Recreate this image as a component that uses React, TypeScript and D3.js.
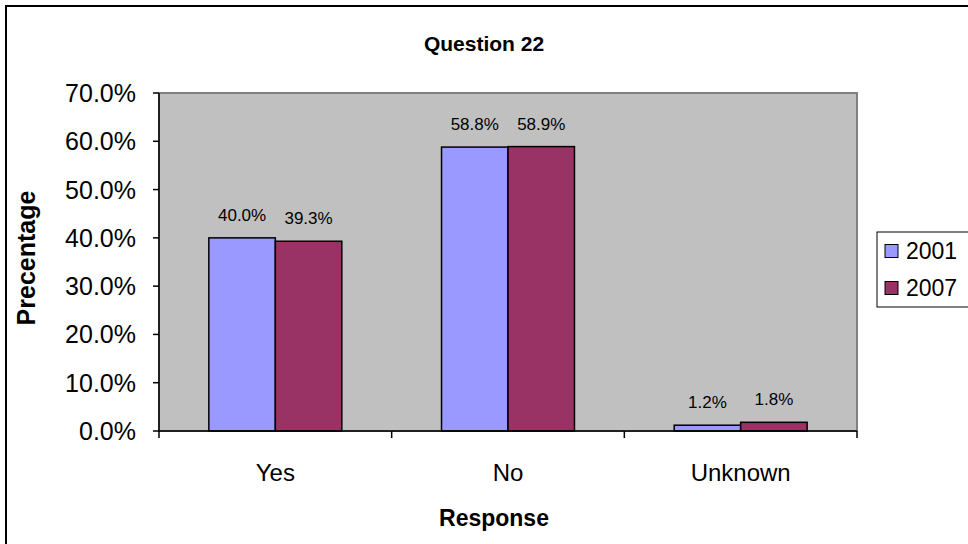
import React from 'react';
import * as d3 from 'd3';

const categories = ['Yes', 'No', 'Unknown'];
const seriesNames = ['2001', '2007'];
const values2001 = [40.0, 58.8, 1.2];
const values2007 = [39.3, 58.9, 1.8];
const yTicks = [0, 10, 20, 30, 40, 50, 60, 70];
const colors = ['#9999ff', '#993366'];

const W = 968;
const H = 544;
const plot = { left: 159, top: 93, right: 857, bottom: 431 };
const font = 'Arial, "Liberation Sans", sans-serif';

export default function App() {
  const x = d3.scaleBand<string>()
    .domain(categories)
    .range([plot.left, plot.right]);
  // Excel gap width 150% -> each bar is band / 3.5
  const barW = x.bandwidth() / 3.5;
  const y = d3.scaleLinear().domain([0, 70]).range([plot.bottom, plot.top]);
  const series = [values2001, values2007];

  return (
    <svg width={W} height={H} style={{ position: 'fixed', left: 0, top: 0, background: '#fff' }}
      fontFamily={font}>
      <rect x={6} y={6} width={W + 10} height={H + 10} fill="#fff" stroke="#000" strokeWidth={2} />

      <text x={W / 2} y={51} textAnchor="middle" fontWeight="bold" fontSize={21}>Question 22</text>

      {/* plot area */}
      <rect x={plot.left} y={plot.top} width={plot.right - plot.left} height={plot.bottom - plot.top}
        fill="#c0c0c0" stroke="#808080" strokeWidth={2} />

      {/* bars */}
      {categories.map((c, i) => {
        const x0 = (x(c) ?? 0) + x.bandwidth() / 2 - barW;
        return (
          <g key={c}>
            {series.map((vals, s) => (
              <g key={s}>
                <rect x={x0 + s * barW} y={y(vals[i])} width={barW} height={plot.bottom - y(vals[i])}
                  fill={colors[s]} stroke="#000" strokeWidth={1.5} />
                <text x={x0 + s * barW + barW / 2} y={y(vals[i]) - 17} textAnchor="middle" fontSize={17}>
                  {vals[i].toFixed(1)}%
                </text>
              </g>
            ))}
          </g>
        );
      })}

      {/* y axis */}
      <line x1={plot.left} x2={plot.left} y1={plot.top} y2={plot.bottom} stroke="#000" strokeWidth={1.5} />
      {yTicks.map(t => (
        <g key={t}>
          <line x1={plot.left - 6} x2={plot.left} y1={y(t)} y2={y(t)} stroke="#000" strokeWidth={1.5} />
          <text x={plot.left - 23} y={y(t)} dy="0.36em" textAnchor="end" fontSize={25}>{t.toFixed(1)}%</text>
        </g>
      ))}

      {/* x axis */}
      <line x1={plot.left} x2={plot.right} y1={plot.bottom} y2={plot.bottom} stroke="#000" strokeWidth={1.5} />
      {[...categories.map(c => x(c) ?? 0), plot.right].map((v, i) => (
        <line key={i} x1={v} x2={v} y1={plot.bottom} y2={plot.bottom + 7} stroke="#000" strokeWidth={1.5} />
      ))}
      {categories.map(c => (
        <text key={c} x={(x(c) ?? 0) + x.bandwidth() / 2} y={481} textAnchor="middle" fontSize={24}>{c}</text>
      ))}

      <text x={W / 2 + 10} y={526} textAnchor="middle" fontWeight="bold" fontSize={23}>Response</text>
      <text transform={`translate(35, 258) rotate(-90)`} textAnchor="middle"
        fontWeight="bold" fontSize={25}>Precentage</text>

      {/* legend */}
      <rect x={877} y={232} width={100} height={75} fill="#fff" stroke="#000" strokeWidth={1} />
      {seriesNames.map((n, i) => (
        <g key={n}>
          <rect x={885} y={251 + i * 37 - 6.5} width={13} height={13} fill={colors[i]} stroke="#000" strokeWidth={1} />
          <text x={906} y={251 + i * 37} dy="0.36em" fontSize={23}>{n}</text>
        </g>
      ))}
    </svg>
  );
}
